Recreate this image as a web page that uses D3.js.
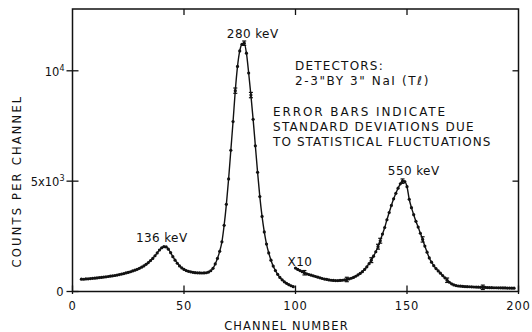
<!DOCTYPE html>
<html><head><meta charset="utf-8">
<script src="https://cdn.jsdelivr.net/npm/d3@7/dist/d3.min.js"></script>
<style>
html,body{margin:0;padding:0;background:#fff;}
svg{display:block;}
text{font-family:"DejaVu Sans",sans-serif;fill:#111;}
</style></head>
<body><svg id="c" width="532" height="332"></svg>
<script>
// ---- data ----
// segment 1: channels 4..99 (direct counts)
const seg1Start = 4;
const seg1Counts = [560,555,570,575,585,595,605,615,630,640,655,665,680,695,710,725,745,765,790,810,
  840,865,895,930,965,1005,1050,1100,1160,1230,1310,1400,1500,1620,1750,1880,1980,2030,2020,1920,
  1760,1580,1420,1280,1160,1070,1000,950,915,890,870,855,845,840,838,840,850,880,940,1050,
  1250,1500,1820,2250,3000,3950,5100,6400,7700,9100,10200,10900,11200,11250,10800,9900,8900,7800,6600,5400,
  4300,3400,2700,2150,1750,1420,1150,950,780,640,530,440,370,310,260,220];
// segment 2: channels 100..198 (plotted X10)
const seg2Start = 100;
const seg2Counts = [1060,1000,950,900,850,800,770,740,710,680,650,620,590,565,545,525,510,500,495,495,
  500,510,525,545,570,600,640,690,750,820,900,1000,1120,1260,1420,1600,1800,2030,2300,2600,
  2900,3250,3580,3900,4200,4450,4680,4880,5000,4980,4750,4180,3800,3480,3180,2920,2640,2360,2060,1780,
  1520,1330,1170,1040,930,830,720,620,510,420,350,300,270,250,240,230,225,220,215,210,
  205,200,195,190,190,185,180,175,175,170,170,165,165,160,160,155,155,150,150];
// error bars (channel, +/- counts)
const errChannels = [73,77,80,104,123,134,137,138,148,157,168,184];
const errSizes    = [120,100,120,100,100,110,110,110,100,120,100,100];

const xTicks = [0,50,100,150,200];
const xTickLabels = ["0","50","100","150","200"];
const yTicks = [0,5000,10000];

const peakLabels = [
  {t:"136 keV", ch:40, v:2243},
  {t:"280 keV", ch:80.8, v:11490},
  {t:"550 keV", ch:153, v:5278},
  {t:"X10", ch:102, v:1155}
];
const noteLines = ["DETECTORS:", "2-3\"BY 3\" NaI (T\u2113)"];
const errNote = ["ERROR BARS INDICATE","STANDARD DEVIATIONS DUE","TO STATISTICAL FLUCTUATIONS"];

// ---- build ----
const seg1 = seg1Counts.map((v,i)=>({ch:seg1Start+i, v}));
const seg2 = seg2Counts.map((v,i)=>({ch:seg2Start+i, v}));
const all = seg1.concat(seg2);
const errs = errChannels.map((c,i)=>{const p=all.find(d=>d.ch===c);return {ch:c,v:p.v,e:errSizes[i]};});

const svg = d3.select("#c");
const L=72.5, R=518.5, T=9, B=291.5;
const x = d3.scaleLinear().domain([0,200]).range([L,R]);
const y = d3.scaleLinear().domain([0,12800]).range([B,T]);

// frame
svg.append("rect").attr("x",L).attr("y",T).attr("width",R-L).attr("height",B-T)
  .attr("fill","none").attr("stroke","#111").attr("stroke-width",1.5);

// ticks
const tk = svg.append("g").attr("stroke","#111").attr("stroke-width",1.3);
xTicks.forEach(t=>{
  tk.append("line").attr("x1",x(t)).attr("x2",x(t)).attr("y1",B-6).attr("y2",B+2.5);
  if(t>0&&t<200) tk.append("line").attr("x1",x(t)).attr("x2",x(t)).attr("y1",T).attr("y2",T+6);
});
yTicks.forEach(t=>{
  tk.append("line").attr("x1",L-6).attr("x2",L+6).attr("y1",y(t)).attr("y2",y(t));
  if(t>0) tk.append("line").attr("x1",R-6).attr("x2",R).attr("y1",y(t)).attr("y2",y(t));
});

// x tick labels
const xl = svg.append("g");
xTicks.forEach((t,i)=>{
  xl.append("text").attr("x",x(t)).attr("y",310).attr("text-anchor","middle")
    .attr("font-size",11.5).attr("letter-spacing",0.8).text(xTickLabels[i]);
});
// y tick labels
const yl = svg.append("g");
yl.append("text").attr("x",L-9).attr("y",y(0)+4.5).attr("text-anchor","end").attr("font-size",11.5).text("0");
const t5 = yl.append("text").attr("x",L-8).attr("y",y(5000)+5).attr("text-anchor","end").attr("font-size",11.5);
t5.append("tspan").text("5x10");
t5.append("tspan").attr("font-size",8).attr("dy",-5).text("3");
const t4 = yl.append("text").attr("x",L-8).attr("y",y(10000)+5).attr("text-anchor","end").attr("font-size",11.5);
t4.append("tspan").text("10");
t4.append("tspan").attr("font-size",8).attr("dy",-5).text("4");

// axis titles
svg.append("text").attr("x",(L+R)/2-9).attr("y",329.5).attr("text-anchor","middle")
  .attr("font-size",11.5).attr("letter-spacing",1.1).text("CHANNEL NUMBER");
svg.append("text").attr("transform","translate(21,181) rotate(-90)").attr("text-anchor","middle")
  .attr("font-size",11.5).attr("letter-spacing",2.2).text("COUNTS PER CHANNEL");

// curves
const line = d3.line().x(d=>x(d.ch)).y(d=>y(d.v)).curve(d3.curveMonotoneX);
[seg1,seg2].forEach(s=>{
  svg.append("path").attr("d",line(s)).attr("fill","none").attr("stroke","#111").attr("stroke-width",1.4);
});
// points
svg.append("g").selectAll("circle").data(all).join("circle")
  .attr("cx",d=>x(d.ch)).attr("cy",d=>y(d.v)).attr("r",1.6).attr("fill","#111");
// error bars
const eb = svg.append("g").attr("stroke","#111").attr("stroke-width",1.2);
errs.forEach(d=>{
  eb.append("line").attr("x1",x(d.ch)).attr("x2",x(d.ch)).attr("y1",y(d.v-d.e)).attr("y2",y(d.v+d.e));
  [d.v-d.e,d.v+d.e].forEach(v=>eb.append("line").attr("x1",x(d.ch)-2).attr("x2",x(d.ch)+2).attr("y1",y(v)).attr("y2",y(v)));
});

// peak labels
peakLabels.forEach(p=>{
  svg.append("text").attr("x",x(p.ch)).attr("y",y(p.v)).attr("text-anchor","middle")
    .attr("font-size",12).attr("letter-spacing",0.4).text(p.t);
});
// notes
noteLines.forEach((t,i)=>{
  svg.append("text").attr("x",295).attr("y",70+i*15).attr("font-size",12).attr("letter-spacing",i===0?1.2:1.6).text(t);
});
errNote.forEach((t,i)=>{
  svg.append("text").attr("x",273).attr("y",116+i*15).attr("font-size",12).attr("letter-spacing",[1.9,1.3,1.1][i]).text(t);
});
</script></body></html>
